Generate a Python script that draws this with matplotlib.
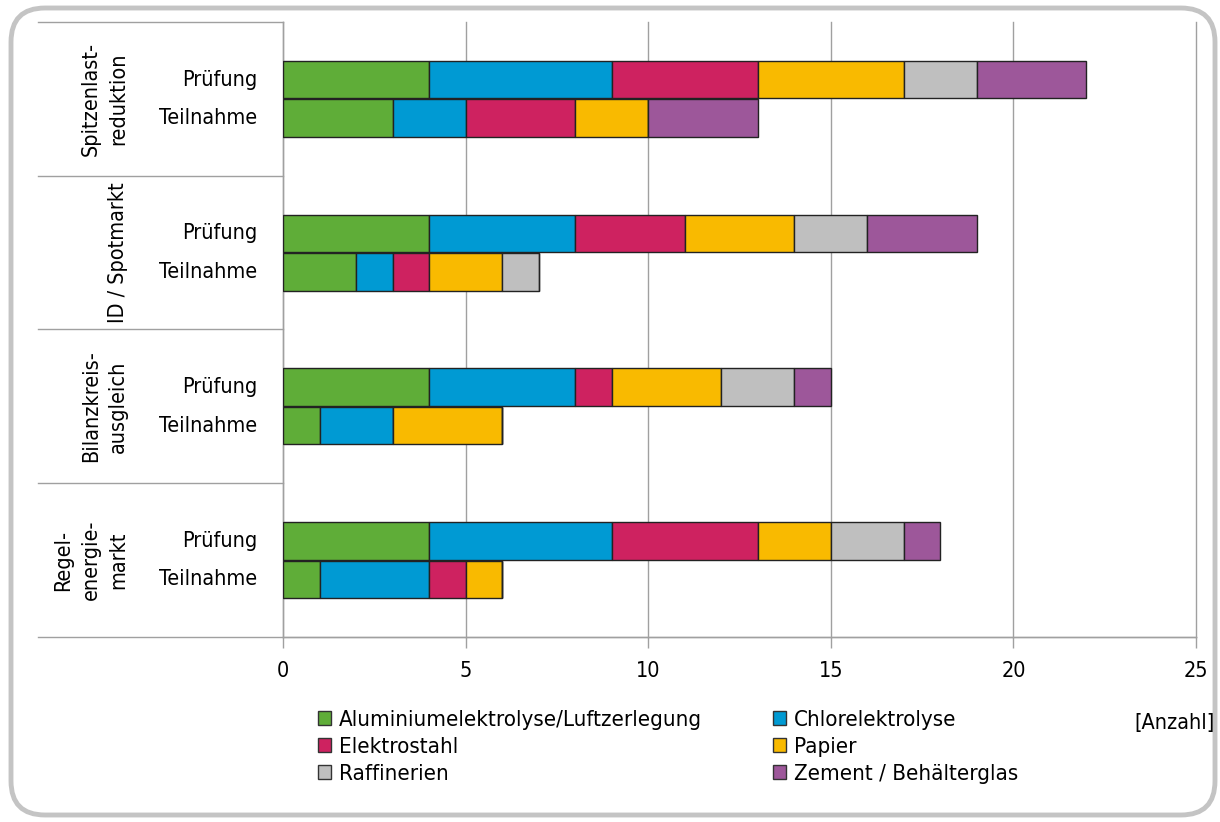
import matplotlib
matplotlib.use("Agg")
import matplotlib.pyplot as plt
import numpy as np
from matplotlib import font_manager
from matplotlib.patches import FancyBboxPatch, Patch
from matplotlib.lines import Line2D
from matplotlib.transforms import blended_transform_factory

# pick a narrow sans face if one is available
_fonts = {f.name: f for f in font_manager.fontManager.ttflist}
_cond = [f for f in font_manager.fontManager.ttflist
         if f.name == "DejaVu Sans" and "Condensed" in f.fname and "Bold" not in f.fname
         and "Oblique" not in f.fname]
if "Liberation Sans Narrow" in _fonts:
    FONT = dict(family="Liberation Sans Narrow")
elif _cond:
    FONT = dict(family="DejaVu Sans", stretch="condensed")
else:
    FONT = dict(family="DejaVu Sans")

# ---- data ----
groups = ["Spitzenlast-\nreduktion", "ID / Spotmarkt", "Bilanzkreis-\nausgleich", "Regel-\nenergie-\nmarkt"]
rows = ["Prüfung", "Teilnahme"]
sectors = ["Aluminiumelektrolyse/Luftzerlegung", "Chlorelektrolyse", "Elektrostahl",
           "Papier", "Raffinerien", "Zement / Behälterglas"]
colors = ["#5FAD38", "#009AD3", "#CE2260", "#F9BA00", "#BFBFBF", "#9D579A"]

# values per sector, order: group x (Prüfung, Teilnahme)
alu        = [4, 3, 4, 2, 4, 1, 4, 1]
chlor      = [5, 2, 4, 1, 4, 2, 5, 3]
elektro    = [4, 3, 3, 1, 1, 0, 4, 1]
papier     = [4, 2, 3, 2, 3, 3, 2, 1]
raffinerie = [2, 0, 2, 1, 2, 0, 2, 0]
zement     = [3, 3, 3, 0, 1, 0, 1, 0]
series = [alu, chlor, elektro, papier, raffinerie, zement]

x_ticks = [0, 5, 10, 15, 20, 25]
unit_label = "[Anzahl]"

# ---- figure ----
W, H = 1220, 822
fig = plt.figure(figsize=(W / 100, H / 100), dpi=100)
fig.patch.set_facecolor("white")

L, R, T, B = 283, 1196, 22, 637
ax = fig.add_axes([L / W, 1 - B / H, (R - L) / W, (B - T) / H])

n_groups = len(groups)
span = 4.0
ax.set_ylim(0, n_groups * span)
ax.set_xlim(0, 25)

# bar centres: Prüfung above Teilnahme inside each group
ypos = []
for g in range(n_groups):
    centre = (n_groups - g - 0.5) * span
    ypos += [centre + 0.5, centre - 0.5]
ypos = np.array(ypos)

left = np.zeros(len(ypos))
for vals, col, name in zip(series, colors, sectors):
    v = np.array(vals, dtype=float)
    ax.barh(ypos, v, left=left, height=0.98, color=col, edgecolor="#222222",
            linewidth=1.0, label=name, zorder=3)
    left += v

ax.set_xticks(x_ticks)
ax.set_xticklabels([str(t) for t in x_ticks], fontsize=15.5, **FONT)
ax.tick_params(axis="x", length=8, color="#A0A0A0", width=1, pad=9)
ax.set_yticks([])
ax.grid(axis="x", color="#A0A0A0", linewidth=1, zorder=0)
for gl in ax.get_xgridlines():
    gl.set_clip_on(False)
for s in ["top", "right"]:
    ax.spines[s].set_visible(False)
for s in ["left", "bottom"]:
    ax.spines[s].set_color("#A0A0A0")
    ax.spines[s].set_linewidth(1)

# row labels
for y in ypos[0::2]:
    ax.text(-0.7, y, rows[0], ha="right", va="center", fontsize=15.5, **FONT)
for y in ypos[1::2]:
    ax.text(-0.7, y, rows[1], ha="right", va="center", fontsize=15.5, **FONT)

# group labels and separator lines in the label column
tr = blended_transform_factory(fig.transFigure, ax.transData)
for g, name in enumerate(groups):
    centre = (n_groups - g - 0.5) * span
    fig.text(128 / W, centre, name, rotation=90, ha="right", va="center",
             multialignment="center", fontsize=15.5, linespacing=1.45,
             transform=tr, **FONT)
for k in range(n_groups + 1):
    y = k * span
    x1 = R / W if k == 0 else L / W
    fig.add_artist(Line2D([38 / W, x1], [y, y], transform=tr, color="#A0A0A0", linewidth=1))

# legend: two stacked columns
handles = [Patch(facecolor=c, edgecolor="#333333", linewidth=1) for c in colors]
legkw = dict(frameon=False, prop=dict(size=16, **FONT), handlelength=0.6, handleheight=0.6,
             handletextpad=0.35, labelspacing=0.32, borderpad=0, borderaxespad=0)
leg1 = fig.legend([handles[0], handles[2], handles[4]], [sectors[0], sectors[2], sectors[4]],
                  loc="upper left", bbox_to_anchor=(318 / W, 1 - 710 / H), **legkw)
leg2 = fig.legend([handles[1], handles[3], handles[5]], [sectors[1], sectors[3], sectors[5]],
                  loc="upper left", bbox_to_anchor=(773 / W, 1 - 710 / H), **legkw)

fig.text(1215 / W, 1 - 723 / H, unit_label, ha="right", va="center", fontsize=15.5, **FONT)

# rounded outer frame
frame = FancyBboxPatch((11, 7), 1204, 807, boxstyle="round,pad=0,rounding_size=34",
                       transform=None, facecolor="none", edgecolor="#C4C4C4", linewidth=3.5)
fig.add_artist(frame)

fig.savefig("out.png", dpi=100)
